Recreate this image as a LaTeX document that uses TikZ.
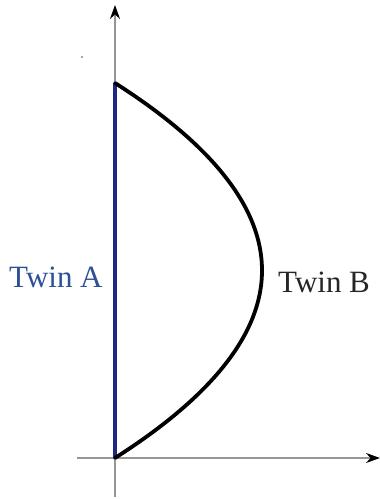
\documentclass[tikz,border=0pt]{standalone}
\usepackage{fontspec}
\setmainfont{Liberation Serif}
\usetikzlibrary{arrows.meta}
\definecolor{twinblue}{RGB}{30,40,130}
\definecolor{labelblue}{RGB}{45,80,150}
\definecolor{axisgray}{RGB}{150,150,150}
\begin{document}
\begin{tikzpicture}[x=1pt,y=1pt,
  axis/.style={draw=axisgray,line width=1.6pt,-{Stealth[length=14pt,width=10pt,color=black]}},
  lbl/.style={font=\fontsize{31}{36}\selectfont,inner sep=0pt,anchor=base west}]
\useasboundingbox (0,0) rectangle (380,499);
\coordinate (O) at (115,41);
\coordinate (T) at (115,416);
\coordinate (ybot) at (115,2);
\coordinate (ytop) at (115,494);
\coordinate (xleft) at (77,41);
\coordinate (xright) at (380,41);
\draw[axis] (ybot) -- (ytop);
\draw[axis] (xleft) -- (xright);
\draw[twinblue,line width=3.2pt] (O) -- (T);
\draw[black,line width=3.8pt,line cap=round,domain=-1:1,samples=80,smooth]
  plot ({115+147*(1-\x*\x)},{228.5+187.5*\x});
\fill[labelblue] (82,442) circle (0.9pt);
\node[lbl,text=labelblue] (twinA) at (9,211) {Twin A};
\node[lbl,text=black!85] (twinB) at (278,206) {Twin B};
\end{tikzpicture}
\end{document}
